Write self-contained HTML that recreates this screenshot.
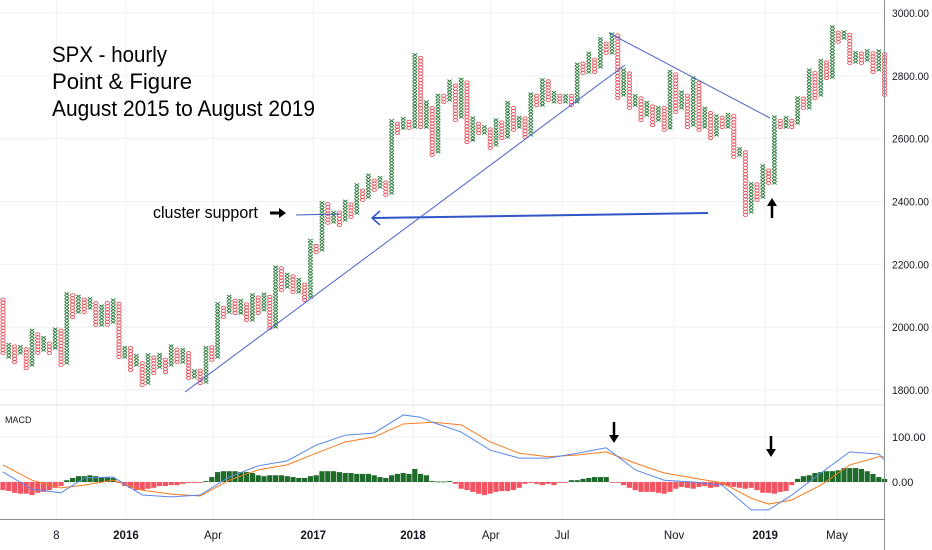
<!DOCTYPE html>
<html><head><meta charset="utf-8"><style>
html,body{margin:0;padding:0;background:#fff;}
svg{display:block;font-family:"Liberation Sans",sans-serif;}
</style></head><body>
<svg id="chart" width="932" height="550" viewBox="0 0 932 550">
<g id="grid"></g>
<g id="pnf"></g>
<g id="macd"></g>
<g id="axes"></g>
<g>
 <text x="52" y="62" font-size="22" textLength="115" lengthAdjust="spacingAndGlyphs" fill="#000">SPX - hourly</text>
 <text x="52" y="89" font-size="22" textLength="140" lengthAdjust="spacingAndGlyphs" fill="#000">Point &amp; Figure</text>
 <text x="52" y="116" font-size="22" textLength="263" lengthAdjust="spacingAndGlyphs" fill="#000">August 2015 to August 2019</text>
 <text x="153" y="218" font-size="17" textLength="105" lengthAdjust="spacingAndGlyphs" fill="#000">cluster support</text>
 <g><line x1="270" y1="213" x2="281" y2="213" stroke="#000" stroke-width="3"/><path d="M279 208 L286 213 L279 218 Z" fill="#000"/></g>
 <line x1="296" y1="215" x2="340" y2="214" stroke="#3d5fc4" stroke-width="1"/>
 <g><line x1="708" y1="213" x2="373" y2="218" stroke="#2f55c8" stroke-width="2"/><path d="M380 211 L372 218 L380 225" fill="none" stroke="#2f55c8" stroke-width="1.5"/></g>
 <line x1="185" y1="392" x2="625" y2="65" stroke="#4a62c9" stroke-width="1"/>
 <line x1="609" y1="33" x2="770" y2="118" stroke="#4a62c9" stroke-width="1"/>
 <g><line x1="772" y1="218" x2="772" y2="204" stroke="#000" stroke-width="2.5"/><path d="M767 206 L772 198 L777 206 Z" fill="#000"/></g>
 <g><line x1="614" y1="422" x2="614" y2="437" stroke="#000" stroke-width="2.5"/><path d="M609 435 L614 443 L619 435 Z" fill="#000"/></g>
 <g><line x1="771" y1="436" x2="771" y2="451" stroke="#000" stroke-width="2.5"/><path d="M766 449 L771 457 L776 449 Z" fill="#000"/></g>
 <text x="5" y="423" font-size="9" fill="#131722">MACD</text>
</g>
</svg>
<script>
// P&F columns: alternating O (even index) and X (odd index)
const colHigh = [2093,1953,1943,1943,1934,1991,1981,1969,1953,2001,1997,2112,2102,2102,2093,2093,2080,2071,2077,2086,2077,1943,1937,1911,1889,1918,1905,1918,1905,1943,1934,1934,1918,1870,1864,1943,1937,2077,2064,2102,2093,2086,2077,2112,2102,2112,2102,2198,2188,2172,2166,2156,2144,2277,2262,2405,2395,2373,2367,2405,2395,2453,2443,2484,2475,2484,2468,2659,2653,2666,2659,2876,2866,2717,2707,2745,2739,2787,2777,2793,2787,2666,2653,2643,2637,2666,2659,2717,2707,2675,2666,2749,2739,2796,2787,2749,2745,2745,2739,2844,2841,2873,2857,2920,2908,2940,2930,2819,2809,2745,2733,2723,2707,2701,2698,2819,2812,2749,2739,2796,2787,2698,2685,2675,2669,2685,2675,2573,2564,2462,2459,2516,2507,2675,2666,2669,2666,2739,2729,2819,2809,2857,2844,2962,2946,2946,2936,2876,2873,2889,2876,2882,2876];
const colLow = [1918,1905,1889,1918,1870,1880,1918,1927,1918,1934,1880,1886,2032,2048,2048,2061,2007,2007,2007,2016,1905,1905,1864,1880,1816,1822,1854,1873,1857,1880,1889,1889,1838,1841,1822,1825,1896,1905,2032,2048,2045,2045,2023,2023,2045,2055,1997,2001,2118,2128,2112,2112,2086,2096,2239,2246,2332,2335,2325,2341,2351,2363,2405,2414,2437,2446,2421,2427,2618,2634,2634,2637,2637,2637,2548,2558,2717,2723,2659,2669,2589,2596,2618,2618,2570,2580,2602,2605,2628,2637,2605,2612,2707,2707,2723,2717,2717,2717,2707,2717,2809,2812,2812,2828,2873,2873,2729,2739,2698,2707,2659,2675,2643,2659,2628,2634,2685,2698,2637,2643,2628,2637,2602,2612,2637,2637,2542,2548,2357,2367,2405,2414,2459,2459,2637,2637,2637,2650,2698,2698,2729,2739,2793,2796,2908,2920,2841,2844,2841,2850,2812,2819,2739];
// MACD histogram per column
const histValues = [-18,-20,-24,-26,-26,-29,-24,-22,-18,-13,-9,4,9,13,13,15,13,11,11,9,-2,-9,-13,-18,-18,-15,-13,-9,-9,-7,-7,-4,-2,-2,-1,2,11,22,24,24,24,22,22,20,15,13,15,15,15,13,11,9,9,13,15,24,24,24,22,20,20,18,18,18,15,11,9,15,18,20,18,29,18,15,2,1,1,2,-4,-15,-18,-22,-26,-29,-26,-22,-20,-20,-18,-13,-4,-2,-4,-7,-4,-7,-2,-2,4,4,7,9,11,11,11,-1,-2,-7,-13,-18,-22,-22,-22,-24,-26,-22,-15,-11,-13,-15,-11,-9,-13,-11,-7,-9,-11,-13,-15,-13,-18,-24,-24,-26,-22,-20,-7,7,13,15,20,22,24,24,26,31,31,31,29,24,18,11,7];
const lineCols = [0,5,10,14,19,24,29,34,39,44,49,54,59,64,69,72,74,79,84,89,94,99,104,109,114,119,124,129,132,136,141,146,151,152];
const macdLine = [22,-16,-24,9,11,-29,-33,-29,11,36,47,82,104,109,149,144,133,111,71,53,53,64,76,27,4,0,-7,-62,-62,-29,20,67,62,49];
const signalLine = [38,4,-13,-7,4,-18,-27,-31,4,27,38,64,89,100,129,131,133,127,89,64,56,60,67,42,20,9,-2,-36,-49,-40,-7,38,56,56];
const priceTicks = [1800,2000,2200,2400,2600,2800,3000];
const macdTicks = [0,100];
const timeLabels = ["8","2016","Apr","2017","2018","Apr","Jul","Nov","2019","May"];
const timeCols = [9.2,21.2,36.2,53.5,70.7,84.1,96.4,115.7,131.4,143.8];
const boldLabels = ["2016","2017","2018","2019"];

const NS="http://www.w3.org/2000/svg";
const PL=0, PR=884;
function xCol(i){return 3+i*5.8;}
function yPrice(p){return 13+(3000-p)*0.3142;}
function yMacd(v){return 482-v*0.45;}
function mk(tag,attrs,parent){const e=document.createElementNS(NS,tag);for(const k in attrs)e.setAttribute(k,attrs[k]);parent.appendChild(e);return e;}

const grid=document.getElementById('grid');
timeCols.forEach((c,i)=>{
  const l=mk('line',{x1:xCol(c),x2:xCol(c),y1:0,y2:519,stroke:'#eef0f4','stroke-width':1},grid);
  
  
});
priceTicks.forEach(p=>{
  const l=mk('line',{x1:PL,x2:PR,y1:yPrice(p),y2:yPrice(p),stroke:'#eef0f4','stroke-width':1},grid);
  
  
});
macdTicks.forEach(v=>{
  const l=mk('line',{x1:PL,x2:PR,y1:yMacd(v),y2:yMacd(v),stroke:'#eef0f4','stroke-width':1},grid);
  
  
});

const pnf=document.getElementById('pnf');
colHigh.forEach((hi,i)=>{
  const lo=colLow[i], cx=xCol(i), isX=i%2===1;
  let d='';
  for(let p=lo;p<=hi+0.1;p+=10){
    const y=yPrice(p);
    if(isX){d+=`M${cx-2.3} ${y-1.5}L${cx+2.3} ${y+1.5}M${cx+2.3} ${y-1.5}L${cx-2.3} ${y+1.5}`;}
    else{d+=`M${cx-2.2} ${y}a2.2 1.45 0 1 0 4.4 0a2.2 1.45 0 1 0 -4.4 0`;}
  }
  const e=mk('path',{d:d,fill:'none',stroke:isX?'#2a7a3a':'#e2525c','stroke-width':0.9},pnf);
  
  
});

const macd=document.getElementById('macd');
histValues.forEach((v,i)=>{
  const y0=yMacd(0), y1=yMacd(v);
  const r=mk('rect',{x:xCol(i)-2.6,width:5.2,y:Math.min(y0,y1),height:Math.max(0.8,Math.abs(y1-y0)),fill:v>=0?'#1e6b2a':'#f23645',opacity:v>=0?1:0.85},macd);
  
  
});
function poly(arr,color,name){
  const pts=lineCols.map((c,i)=>xCol(c)+','+yMacd(arr[i])).join(' ');
  const e=mk('polyline',{points:pts,fill:'none',stroke:color,'stroke-width':1},macd);
  
  
}
poly(signalLine,'#f57c1f','signal-line');
poly(macdLine,'#5b87e8','macd-line');

const axes=document.getElementById('axes');
let e=mk('line',{x1:0,x2:PR,y1:405,y2:405,stroke:'#e0e3eb','stroke-width':1},axes);


e=mk('line',{x1:0,x2:PR,y1:519.5,y2:519.5,stroke:'#8a8e99','stroke-width':1},axes);


e=mk('line',{x1:PR+0.5,x2:PR+0.5,y1:0,y2:550,stroke:'#8a8e99','stroke-width':1},axes);


priceTicks.forEach(p=>{
  const t=mk('text',{x:892,y:yPrice(p)+4,'font-size':11,fill:'#131722',textLength:37,lengthAdjust:'spacingAndGlyphs'},axes);
  t.textContent=p.toFixed(2);
  
  
});
macdTicks.forEach(v=>{
  const t=mk('text',{x:892,y:yMacd(v)+4,'font-size':11,fill:'#131722'},axes);
  t.textContent=v.toFixed(2);
  
  
});
timeLabels.forEach((s,i)=>{
  const t=mk('text',{x:xCol(timeCols[i]),y:539,'font-size':11.5,'text-anchor':'middle',fill:'#131722','font-weight':boldLabels.includes(s)?'bold':'normal'},axes);
  t.textContent=s;
  
  
});
</script>
</body></html>
